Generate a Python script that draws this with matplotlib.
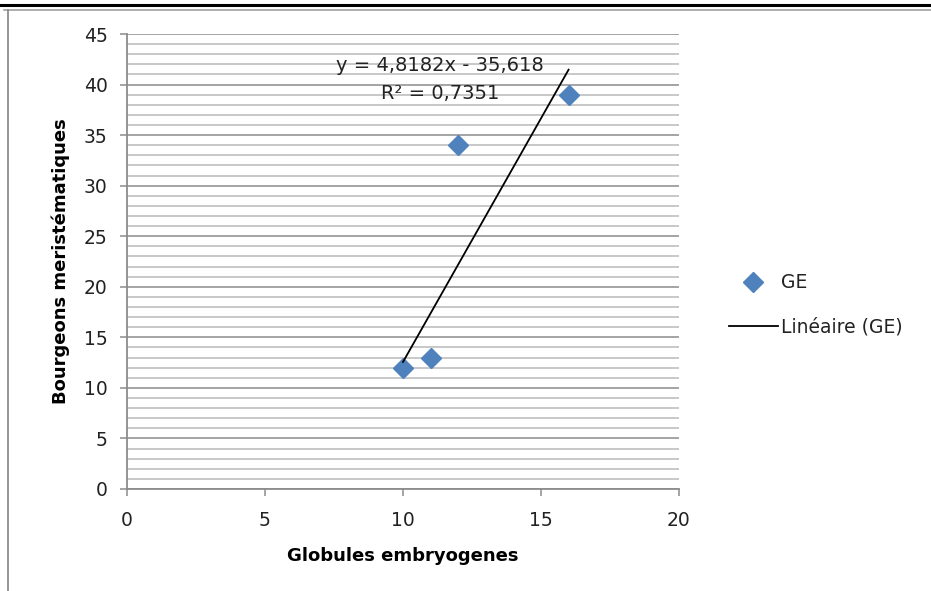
import matplotlib
matplotlib.use("Agg")
import matplotlib.pyplot as plt
from matplotlib.lines import Line2D
import numpy as np

# Data
globules = [10, 11, 12, 16]
bourgeons = [12, 13, 34, 39]
slope = 4.8182
intercept = -35.618
r2 = 0.7351
series_name = "GE"
trend_name = "Linéaire (GE)"
x_label = "Globules embryogenes"
y_label = "Bourgeons meristématiques"

plt.rcParams['font.family'] = ['DejaVu Sans']

W, H = 931, 591
fig = plt.figure(figsize=(W / 100, H / 100), dpi=100)
fig.patch.set_facecolor("white")

ax = fig.add_axes([127 / W, 102 / H, (679 - 127) / W, (489 - 34) / H])
ax.set_xlim(0, 20)
ax.set_ylim(0, 45)

major_c = "#8c8c8c"
minor_c = "#b9b9b9"
text_c = "#222222"

ax.set_xticks(np.arange(0, 21, 5))
ax.set_yticks(np.arange(0, 46, 5))
ax.set_yticks(np.arange(0, 46, 1), minor=True)
ax.grid(axis="y", which="major", color=major_c, lw=1.1, zorder=0)
ax.grid(axis="y", which="minor", color=minor_c, lw=1.1, zorder=0)
ax.tick_params(axis="y", which="minor", length=0)
ax.tick_params(which="major", direction="out", length=5, width=1.1, color=major_c,
               labelsize=13.5, labelcolor=text_c)
ax.tick_params(axis="x", pad=11)
ax.tick_params(axis="y", pad=9)
for s in ("top", "right"):
    ax.spines[s].set_visible(False)
for s in ("left", "bottom"):
    ax.spines[s].set_color(major_c)
    ax.spines[s].set_linewidth(1.3)
ax.set_axisbelow(True)

# Scatter points
ax.plot(globules, bourgeons, linestyle="none", marker="D", markersize=10,
        color="#4f81bd", zorder=3, label=series_name)

# Linear trend line over the data range
xs = np.array([min(globules), max(globules)])
ax.plot(xs, slope * xs + intercept, color="black", lw=1.3, zorder=4, label=trend_name)

def fmt(v, nd):
    return f"{v:.{nd}f}".replace(".", ",")

sign = "-" if intercept < 0 else "+"
eq = f"y = {fmt(slope, 4)}x {sign} {fmt(abs(intercept), 3)}"
ax.text(11.35, 41.9, eq, ha="center", va="center", fontsize=14, color=text_c, zorder=5)
ax.text(11.35, 39.15, f"R² = {fmt(r2, 4)}", ha="center", va="center", fontsize=14,
        color=text_c, zorder=5)

ax.set_xlabel(x_label, fontsize=13, fontweight="bold", labelpad=12, color="black")
ax.set_ylabel(y_label, fontsize=13, fontweight="bold", labelpad=10, color="black")

leg = ax.legend(loc="center left", bbox_to_anchor=(1.06, 0.405), frameon=False,
                fontsize=13.5, handlelength=2.6, labelspacing=1.35, handletextpad=0.2)
for t in leg.get_texts():
    t.set_color(text_c)

# Outer frame lines
fig.add_artist(Line2D([0, 1], [1 - 5 / H, 1 - 5 / H], color="black", lw=2.2,
                      transform=fig.transFigure))
fig.add_artist(Line2D([4 / W, 1], [1 - 9.5 / H, 1 - 9.5 / H], color="#a0a0a0", lw=1.2,
                      transform=fig.transFigure))
fig.add_artist(Line2D([7.5 / W, 7.5 / W], [0, 1 - 9.5 / H], color="#8c8c8c", lw=1.3,
                      transform=fig.transFigure))

fig.savefig("out.png", dpi=100)
